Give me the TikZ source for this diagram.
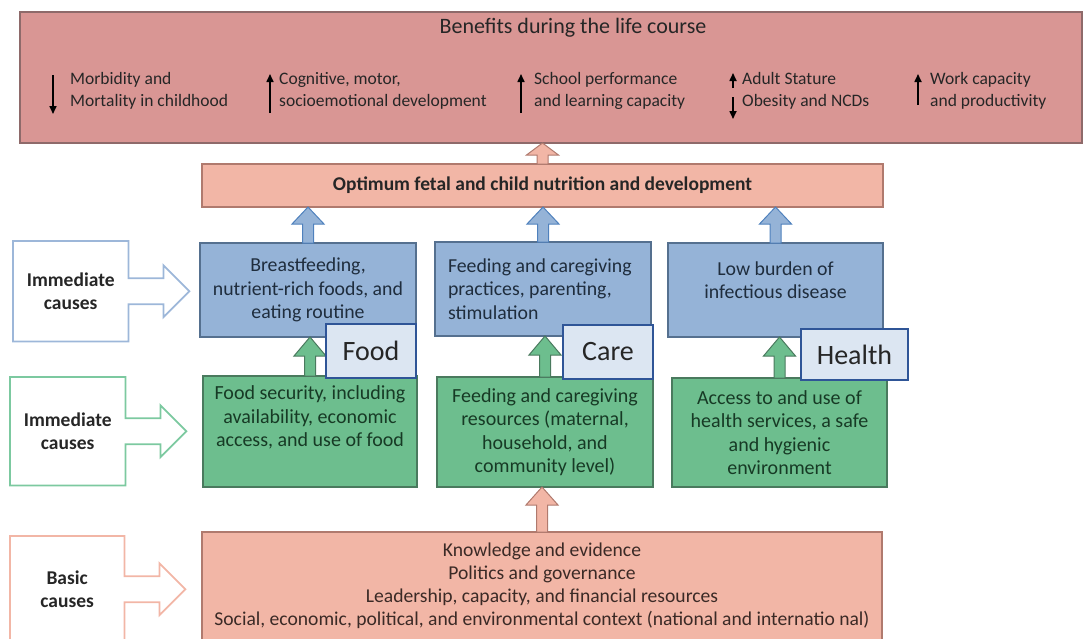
\documentclass[tikz,border=0pt]{standalone}
\usepackage{fontspec}
\setmainfont{Carlito}
\usetikzlibrary{calc}
\usetikzlibrary{positioning}
\usetikzlibrary{arrows.meta}
\definecolor{benefitFill}{HTML}{D99694}
\definecolor{benefitLine}{HTML}{8E6A6A}
\definecolor{salmonFill}{HTML}{F2B6A6}
\definecolor{salmonLine}{HTML}{B07A6E}
\definecolor{blueFill}{HTML}{95B3D7}
\definecolor{blueLine}{HTML}{55708F}
\definecolor{blueArrowLine}{HTML}{4F81BD}
\definecolor{tagFill}{HTML}{DCE6F2}
\definecolor{tagLine}{HTML}{2F5597}
\definecolor{greenFill}{HTML}{6DBE8E}
\definecolor{greenLine}{HTML}{4A7A5E}
\definecolor{causeBlue}{HTML}{9DB7D9}
\definecolor{causeGreen}{HTML}{7CC9A0}
\definecolor{causeSalmon}{HTML}{F2B6A6}
\definecolor{itemText}{HTML}{262626}
\definecolor{blueText}{HTML}{1F2D3D}
\definecolor{greenText}{HTML}{173A25}
\definecolor{basicText}{HTML}{3B2A26}

% extra depth under the last line, moves a box text upwards
\newcommand{\lift}[1]{\rule[-#1]{0pt}{0pt}}
% hollow block arrow: style, base, tip, head length
\newcommand{\blockarrow}[4]{%
	\filldraw[#1] ($(#2)+(-5.5,0)$) -- ($(#3)+(-5.5,#4)$) -- ($(#3)+(-16,#4)$) -- (#3)
		-- ($(#3)+(16,#4)$) -- ($(#3)+(5.5,#4)$) -- ($(#2)+(5.5,0)$) -- cycle;}
% outline of a cause box with its arrow to the right
\newcommand{\causebox}[2]{%
	\draw[#2, line width=1.8pt, line join=miter] (#1.north west) -- (#1.north east)
		-- ($(#1.east)+(0,-13)$) -- ($(#1.east)+(35,-13)$) -- ($(#1.east)+(35,-26)$)
		-- ($(#1.east)+(61,0)$) -- ($(#1.east)+(35,26)$) -- ($(#1.east)+(35,13)$)
		-- ($(#1.east)+(0,13)$) -- (#1.south east) -- (#1.south west) -- cycle;}

\begin{document}
\begin{tikzpicture}[x=1pt, y=-1pt,
		box/.style={anchor=north west, inner sep=0pt, outer sep=0pt, align=center, line width=1.2pt},
		benefit/.style={box, draw=benefitLine, fill=benefitFill},
		outcome/.style={box, draw=salmonLine, fill=salmonFill, font=\fontsize{19.5}{23}\selectfont\bfseries, text=itemText},
		blueBox/.style={box, draw=blueLine, fill=blueFill, minimum height=94pt, font=\fontsize{19.8}{23.5}\selectfont, text=blueText},
		greenBox/.style={box, draw=greenLine, fill=greenFill, font=\fontsize{20}{23.5}\selectfont, text=greenText},
		basicBox/.style={box, draw=salmonLine, fill=salmonFill, font=\fontsize{19.6}{23}\selectfont, text=basicText},
		tag/.style={anchor=north west, inner sep=0pt, draw=tagLine, fill=tagFill, line width=2pt, font=\fontsize{28}{30}\selectfont, text=itemText},
		cause/.style={anchor=north west, inner sep=0pt, align=center, font=\fontsize{19.5}{22.5}\selectfont\bfseries, text=itemText},
		item/.style={anchor=west, inner sep=0pt, align=left, font=\fontsize{17.5}{22}\selectfont, text=itemText},
		benArrow/.style={line width=1.6pt, draw=black, -{Triangle[length=8pt, width=7pt]}},
		blueArrow/.style={fill=blueFill, draw=blueArrowLine, line width=1pt},
		greenArrow/.style={fill=greenFill, draw=greenLine, line width=1pt},
		salmonArrow/.style={fill=salmonFill, draw=salmonLine, line width=1pt}
		]
		\path[use as bounding box, clip] (0,0) rectangle (1084,638);

		\node[benefit, minimum width=1062pt, minimum height=131pt] (life) at (20,12) {};
		\node[font=\fontsize{22}{26}\selectfont, text=itemText] (lifeTitle) at (573,28) {Benefits during the life course};

		\node[item] (b1) at (70,91) {Morbidity and\\Mortality in childhood};
		\node[item] (b2) at (279,91) {Cognitive, motor,\\socioemotional development};
		\node[item] (b3) at (534,91) {School performance\\and learning capacity};
		\node[item] (b4) at (742,91) {Adult Stature\\Obesity and NCDs};
		\node[item] (b5) at (930,91) {Work capacity\\and productivity};

		\draw[benArrow] ($(b1.west)+(-17,-16)$) -- ($(b1.west)+(-17,23)$);
		\draw[benArrow] ($(b2.west)+(-9,22)$) -- ($(b2.west)+(-9,-17)$);
		\draw[benArrow] ($(b3.west)+(-13,22)$) -- ($(b3.west)+(-13,-17)$);
		\draw[benArrow] ($(b4.west)+(-9,-3)$) -- ($(b4.west)+(-9,-18)$);
		\draw[benArrow] ($(b4.west)+(-9,6)$) -- ($(b4.west)+(-9,28)$);
		\draw[benArrow] ($(b5.west)+(-12,14)$) -- ($(b5.west)+(-12,-17)$);

		\node[outcome, minimum width=681pt, minimum height=43pt] (opt) at (202,164) {Optimum fetal and child nutrition and development};

		\node[blueBox, minimum width=216pt] (bFood) at (200,243) {Breastfeeding,\\nutrient-rich foods, and\\eating routine};
		\node[blueBox, align=flush left, text width=190pt, inner xsep=13pt] (bCare) at (435,242) {Feeding and caregiving\\practices, parenting,\\stimulation};
		\node[blueBox, minimum width=215pt] (bHealth) at (668,243) {Low burden of\\infectious disease\lift{20pt}};

		\node[greenBox, minimum width=214pt, minimum height=111pt] (gFood) at (203,376) {Food security, including\\availability, economic\\access, and use of food\lift{30pt}};
		\node[greenBox, minimum width=216pt, minimum height=110pt] (gCare) at (437,377) {Feeding and caregiving\\resources (maternal,\\household, and\\community level)};
		\node[greenBox, minimum width=215pt, minimum height=109pt] (gHealth) at (672,378) {Access to and use of\\health services, a safe\\and hygienic\\environment};

		\node[basicBox, minimum width=680pt, minimum height=110pt] (basic) at (202,532) {Knowledge and evidence\\Politics and governance\\Leadership, capacity, and financial resources\\Social, economic, political, and environmental context (national and internatio nal)\lift{6pt}};

		\coordinate (tipLife) at (opt.north |- life.south);
		\coordinate (tipBF) at (bFood.north |- opt.south);
		\coordinate (tipBC) at (bCare.north |- opt.south);
		\coordinate (tipBH) at (bHealth.north |- opt.south);
		\coordinate (tipGF) at (gFood.north |- bFood.south);
		\coordinate (tipGC) at (gCare.north |- bCare.south);
		\coordinate (tipGH) at (gHealth.north |- bHealth.south);
		\coordinate (tipBasic) at (basic.north |- gCare.south);

		\blockarrow{salmonArrow}{opt.north}{tipLife}{12}
		\blockarrow{blueArrow}{bFood.north}{tipBF}{17}
		\blockarrow{blueArrow}{bCare.north}{tipBC}{17}
		\blockarrow{blueArrow}{bHealth.north}{tipBH}{17}
		\blockarrow{greenArrow}{gFood.north}{tipGF}{19}
		\blockarrow{greenArrow}{gCare.north}{tipGC}{19}
		\blockarrow{greenArrow}{gHealth.north}{tipGH}{19}
		\blockarrow{salmonArrow}{basic.north}{tipBasic}{18}

		\node[tag, minimum width=90pt, minimum height=54pt] (tFood) at (325,323) {Food};
		\node[tag, minimum width=90pt, minimum height=54pt] (tCare) at (562,324) {Care};
		\node[tag, minimum width=107pt, minimum height=51pt] (tHealth) at (800,328) {Health};

		\node[cause, minimum width=115pt, minimum height=100pt] (imm1) at (13,241) {Immediate\\causes};
		\node[cause, minimum width=115pt, minimum height=108pt] (imm2) at (10,377) {Immediate\\causes};
		\node[cause, minimum width=114pt, minimum height=106pt] (bas) at (10,536) {Basic\\causes};
		\causebox{imm1}{causeBlue}
		\causebox{imm2}{causeGreen}
		\causebox{bas}{causeSalmon}
	\end{tikzpicture}
\end{document}
